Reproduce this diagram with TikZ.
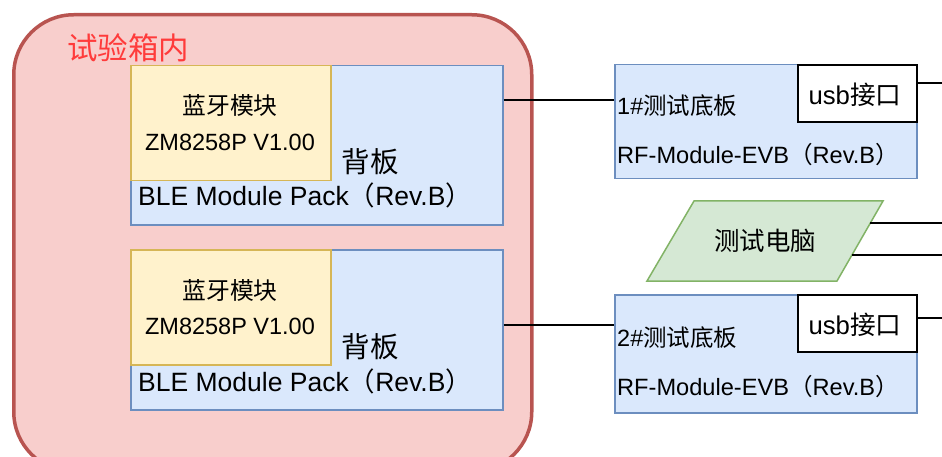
\documentclass[tikz,border=0pt]{standalone}
\usepackage{fontspec}
\setmainfont{Liberation Sans}
\newfontfamily\cjk{Noto Sans CJK SC}
\definecolor{redfill}{HTML}{F8CECC}
\definecolor{redline}{HTML}{B85450}
\definecolor{bluefill}{HTML}{DAE8FC}
\definecolor{blueline}{HTML}{6C8EBF}
\definecolor{yelfill}{HTML}{FFF2CC}
\definecolor{yelline}{HTML}{D6B656}
\definecolor{grnfill}{HTML}{D5E8D4}
\definecolor{grnline}{HTML}{82B366}
\definecolor{labelred}{HTML}{FF3B3B}
\newcommand{\fs}[1]{\fontsize{#1}{#1}\selectfont}
\begin{document}
\begin{tikzpicture}[x=1pt,y=-1pt,
  container/.style={draw=redline, fill=redfill, line width=3.5pt, rounded corners=60pt, anchor=north west, inner sep=0pt},
  boardbox/.style={draw=blueline, fill=bluefill, line width=1.5pt, anchor=north west, inner sep=0pt},
  modbox/.style={draw=yelline, fill=yelfill, line width=1.5pt, anchor=north west, inner sep=0pt},
  usbbox/.style={draw=black, fill=white, line width=1.8pt, anchor=north west, inner sep=0pt},
  pcshape/.style={draw=grnline, fill=grnfill, line width=1.5pt},
  wire/.style={draw=black, line width=1.5pt},
  txt/.style={inner sep=0pt, text=black}
]
\useasboundingbox (0,0) rectangle (942,457);
\clip (0,0) rectangle (942,457);

% test chamber
\node[container, minimum width=518pt, minimum height=457pt] (box) at (12,13) {};
\node[txt, text=labelred, anchor=west] (boxlbl) at (67,48) {\cjk\fs{30.5}试验箱内};

% backplane 1
\node[boardbox, minimum width=372pt, minimum height=159pt] (bp1) at (130,65) {};
\node[modbox, minimum width=200pt, minimum height=115pt] (mod1) at (130,65) {};
\node[txt] (mod1a) at (230,105) {\cjk\fs{23.8}蓝牙模块};
\node[txt] (mod1b) at (230,142) {\fs{23.5}ZM8258P V1.00};
\node[txt] (bp1a) at (370,162) {\cjk\fs{28.5}背板};
\node[txt, anchor=west] (bp1b) at (138,195) {\fs{26.5}BLE Module Pack{\cjk（}Rev.B{\cjk）}};

% backplane 2
\node[boardbox, minimum width=372pt, minimum height=160pt] (bp2) at (130,249) {};
\node[modbox, minimum width=200pt, minimum height=115pt] (mod2) at (130,249) {};
\node[txt] (mod2a) at (230,290) {\cjk\fs{23.8}蓝牙模块};
\node[txt] (mod2b) at (230,326) {\fs{23.5}ZM8258P V1.00};
\node[txt] (bp2a) at (370,347) {\cjk\fs{28.5}背板};
\node[txt, anchor=west] (bp2b) at (138,381) {\fs{26.5}BLE Module Pack{\cjk（}Rev.B{\cjk）}};

% test board 1
\node[boardbox, minimum width=302pt, minimum height=114pt] (tb1) at (614,64) {};
\node[usbbox, minimum width=119pt, minimum height=57pt] (usb1) at (797,64) {};
\node[txt] (usb1t) at (855,95) {\fs{25.7}usb{\cjk 接口}};
\node[txt, anchor=west] (tb1a) at (617,106) {\fs{23.5}1\#{\cjk 测试底板}};
\node[txt, anchor=west] (tb1b) at (617,155) {\fs{23.6}RF-Module-EVB{\cjk（}Rev.B{\cjk）}};

% test board 2
\node[boardbox, minimum width=302pt, minimum height=118pt] (tb2) at (614,294) {};
\node[usbbox, minimum width=119pt, minimum height=57pt] (usb2) at (797,294) {};
\node[txt] (usb2t) at (855,325) {\fs{25.7}usb{\cjk 接口}};
\node[txt, anchor=west] (tb2a) at (617,338) {\fs{23.5}2\#{\cjk 测试底板}};
\node[txt, anchor=west] (tb2b) at (617,387) {\fs{23.6}RF-Module-EVB{\cjk（}Rev.B{\cjk）}};

% test PC
\draw[pcshape] (647,281) -- (837,281) -- (883,201) -- (694,201) -- cycle;
\node[txt] (pc) at (765,241) {\cjk\fs{25.5}测试电脑};
\coordinate (pcr1) at (870.4,223);
\coordinate (pcr2) at (852,255);

% free ends at the right edge
\coordinate (e1) at (942,83);
\coordinate (e2) at (942,223);
\coordinate (e3) at (942,255);
\coordinate (e4) at (942,318);

% connectors
\draw[wire] (bp1.north east) ++(0,35) coordinate (c1) -- (c1 -| tb1.west);
\draw[wire] (bp2.north east) ++(0,76) coordinate (c2) -- (c2 -| tb2.west);
\draw[wire] (usb1.east |- e1) -- (e1);
\draw[wire] (usb2.east |- e4) -- (e4);
\draw[wire] (pcr1) -- (e2);
\draw[wire] (pcr2) -- (e3);
\end{tikzpicture}
\end{document}
